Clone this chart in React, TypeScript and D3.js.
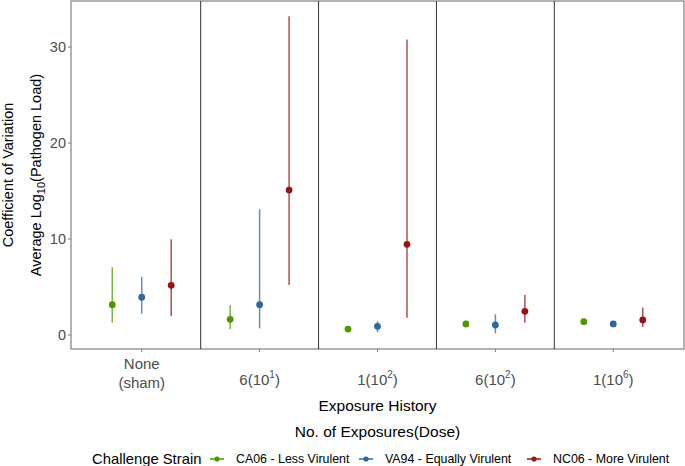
import * as d3 from "d3";

// exposure history categories (x axis)
const categories = ["none", "6e1", "1e2", "6e2", "1e6"];
// tick labels: [main, superscript, tail] ; first one is two lines
const tickLabels = [
  { lines: ["None", "(sham)"] },
  { pre: "6(10", sup: "1", post: ")" },
  { pre: "1(10", sup: "2", post: ")" },
  { pre: "6(10", sup: "2", post: ")" },
  { pre: "1(10", sup: "6", post: ")" },
];
const yTicks = [0, 10, 20, 30];

const strains = ["CA06 - Less Virulent", "VA94 - Equally Virulent", "NC06 - More Virulent"];
const strainColors = ["#4c9900", "#336799", "#921616"];

// coefficient of variation, mean and interval per category
const ca06Mean = [3.16, 1.63, 0.62, 1.15, 1.39];
const ca06Low = [1.28, 0.59, 0.45, 0.8, 1.2];
const ca06High = [7.05, 3.09, 0.8, 1.49, 1.6];

const va94Mean = [3.93, 3.16, 0.9, 1.04, 1.15];
const va94Low = [2.22, 0.69, 0.28, 0.17, 1.0];
const va94High = [6.04, 13.1, 1.43, 2.15, 1.3];

const nc06Mean = [5.17, 15.1, 9.45, 2.47, 1.56];
const nc06Low = [1.98, 5.2, 1.8, 1.28, 0.83];
const nc06High = [9.97, 33.2, 30.8, 4.17, 2.85];

const series = [
  { mean: ca06Mean, low: ca06Low, high: ca06High },
  { mean: va94Mean, low: va94Low, high: va94High },
  { mean: nc06Mean, low: nc06Low, high: nc06High },
];

const W = 685;
const H = 466;
const left = 71;
const right = 684;
const top = 1;
const bottom = 349;

export default function App() {
  const x = d3.scalePoint<string>().domain(categories).range([left, right]).padding(0.6);
  const step = x.step();
  const dodge = d3.scalePoint<number>().domain([0, 1, 2]).range([-0.25 * step, 0.25 * step]);
  const y = d3.scaleLinear().domain([-1.46, 34.8]).range([bottom, top]);

  const dividers = categories.slice(1).map((c) => (x(c) as number) - step / 2);
  const midY = (top + bottom) / 2;
  const font = "'Liberation Sans', Arial, sans-serif";

  // legend layout
  const legendY = 459;
  const legendItems = [
    { sym: 217, text: 236 },
    { sym: 366, text: 385 },
    { sym: 534, text: 553 },
  ];

  return (
    <svg width={W} height={H} style={{ position: "absolute", left: 0, top: 0, fontFamily: font }}>
      <rect x={0} y={0} width={W} height={H} fill="#fff" />
      {/* panel */}
      <rect x={left} y={top} width={right - left} height={bottom - top} fill="none" stroke="#7f7f7f" strokeWidth={1.2} />
      {dividers.map((d, i) => (
        <line key={i} x1={d} x2={d} y1={top} y2={bottom} stroke="#333" strokeWidth={1} />
      ))}

      {/* y axis */}
      {yTicks.map((t) => (
        <g key={t}>
          <line x1={left - 3} x2={left} y1={y(t)} y2={y(t)} stroke="#7f7f7f" />
          <text x={left - 5} y={y(t)} dy="0.35em" textAnchor="end" fontSize={14.5} fill="#4d4d4d">
            {t}
          </text>
        </g>
      ))}
      <text transform={`translate(13,${midY}) rotate(-90)`} textAnchor="middle" fontSize={14.5} fill="#000">
        Coefficient of Variation
      </text>
      <text transform={`translate(41,${midY}) rotate(-90)`} textAnchor="middle" fontSize={14.5} fill="#000">
        Average Log
        <tspan fontSize={11} dy={4}>10</tspan>
        <tspan dy={-4}>(Pathogen Load)</tspan>
      </text>

      {/* x axis */}
      {categories.map((c, i) => {
        const cx = x(c) as number;
        const lab = tickLabels[i];
        return (
          <g key={c}>
            <line x1={cx} x2={cx} y1={bottom} y2={bottom + 3} stroke="#7f7f7f" />
            {lab.lines ? (
              lab.lines.map((l, j) => (
                <text key={j} x={cx} y={364 + j * 19} dy="0.35em" textAnchor="middle" fontSize={15} fill="#4d4d4d">
                  {l}
                </text>
              ))
            ) : (
              <text x={cx} y={380} dy="0.35em" textAnchor="middle" fontSize={15} fill="#4d4d4d">
                {lab.pre}
                <tspan fontSize={10} dy={-7}>{lab.sup}</tspan>
                <tspan dy={7}>{lab.post}</tspan>
              </text>
            )}
          </g>
        );
      })}
      <text x={(left + right) / 2} y={406} dy="0.35em" textAnchor="middle" fontSize={15.5}>
        Exposure History
      </text>
      <text x={(left + right) / 2} y={432} dy="0.35em" textAnchor="middle" fontSize={15.5}>
        No. of Exposures(Dose)
      </text>

      {/* error bars and points */}
      {series.map((s, si) =>
        categories.map((c, ci) => {
          const px = (x(c) as number) + (dodge(si) as number);
          return (
            <g key={`${si}-${ci}`}>
              <line
                x1={px}
                x2={px}
                y1={y(s.low[ci])}
                y2={y(s.high[ci])}
                stroke={strainColors[si]}
                strokeOpacity={0.75}
                strokeWidth={1.5}
              />
              <circle cx={px} cy={y(s.mean[ci])} r={3.4} fill={strainColors[si]} />
            </g>
          );
        })
      )}

      {/* legend */}
      <text x={92} y={legendY} dy="0.35em" fontSize={14.8}>
        Challenge Strain
      </text>
      {strains.map((s, i) => (
        <g key={s}>
          <line
            x1={legendItems[i].sym - 7}
            x2={legendItems[i].sym + 7}
            y1={legendY}
            y2={legendY}
            stroke={strainColors[i]}
            strokeWidth={1.5}
          />
          <circle cx={legendItems[i].sym} cy={legendY} r={2.6} fill={strainColors[i]} />
          <text x={legendItems[i].text} y={legendY} dy="0.35em" fontSize={12.4}>
            {s}
          </text>
        </g>
      ))}
    </svg>
  );
}
